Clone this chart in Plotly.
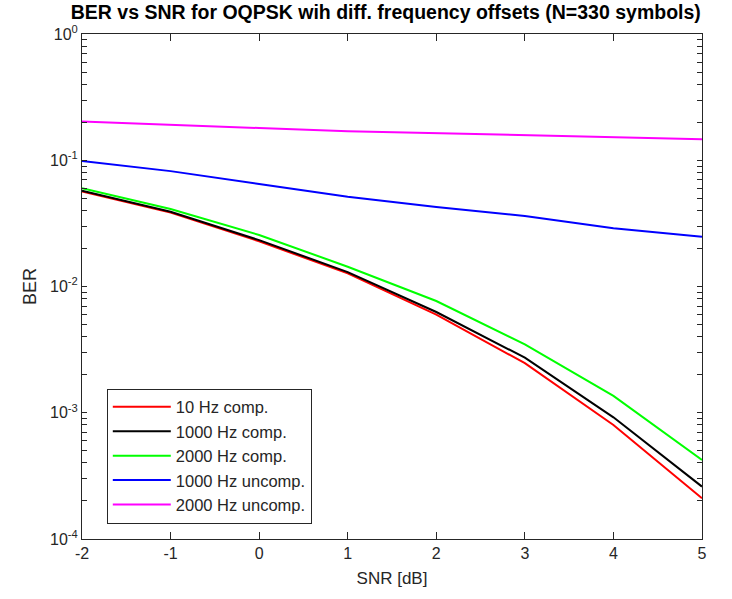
import plotly.graph_objects as go

snr = [-2, -1, 0, 1, 2, 3, 4, 5]
ber_10_comp = [0.0565, 0.0385, 0.0228, 0.0127, 0.00598, 0.00247, 0.00080, 0.00021]
ber_1000_comp = [0.0574, 0.0391, 0.0233, 0.0130, 0.00628, 0.00273, 0.00092, 0.00026]
ber_2000_comp = [0.0600, 0.0411, 0.0256, 0.01435, 0.00767, 0.00348, 0.00136, 0.000422]
ber_1000_uncomp = [0.0987, 0.0820, 0.0649, 0.0514, 0.0426, 0.0362, 0.0289, 0.0248]
ber_2000_uncomp = [0.203, 0.190, 0.180, 0.170, 0.164, 0.158, 0.153, 0.147]

names = ["10 Hz comp.", "1000 Hz comp.", "2000 Hz comp.", "1000 Hz uncomp.", "2000 Hz uncomp."]
colors = ["#ff0000", "#000000", "#00ff00", "#0000ff", "#ff00ff"]
series = [ber_10_comp, ber_1000_comp, ber_2000_comp, ber_1000_uncomp, ber_2000_uncomp]

x_ticks = [-2, -1, 0, 1, 2, 3, 4, 5]
x_ticktext = ["-2", "-1", "0", "1", "2", "3", "4", "5"]
y_exps = [-4, -3, -2, -1, 0]
# decade ticks labelled, plus unlabelled ticks at 2..9 within each decade
y_ticks = []
y_ticktext = []
for e in y_exps:
    y_ticks.append(10.0 ** e)
    y_ticktext.append("10<sup>%d</sup>" % e)
    if e < 0:
        for m in range(2, 10):
            y_ticks.append(m * 10.0 ** e)
            y_ticktext.append("")

fig = go.Figure()
for n, c, s in zip(names, colors, series):
    fig.add_trace(go.Scatter(x=snr, y=s, mode="lines", name=n,
                             line=dict(color=c, width=2)))

axcol = "#262626"
fig.update_layout(
    width=732, height=599,
    margin=dict(l=82, r=30, t=34, b=60),
    paper_bgcolor="white", plot_bgcolor="white",
    font=dict(family="Liberation Sans, Arial, sans-serif", size=16, color=axcol),
    title=dict(text="<b>BER vs SNR for OQPSK wih diff. frequency offsets (N=330 symbols)</b>",
               x=0.527, xanchor="center", y=0.979, yanchor="middle",
               font=dict(size=19.5, color="black")),
    showlegend=True,
    legend=dict(x=0.04, y=0.298, xanchor="left", yanchor="top",
                bgcolor="white", bordercolor=axcol, borderwidth=1,
                font=dict(size=16.5, color=axcol), tracegroupgap=0,
                itemwidth=58),
    xaxis=dict(range=[-2, 5], tickmode="array", tickvals=x_ticks, ticktext=x_ticktext,
               showgrid=False, zeroline=False,
               showline=True, linecolor=axcol, linewidth=1, mirror="ticks",
               ticks="inside", ticklen=7, tickcolor=axcol,
               title=dict(text="SNR [dB]", font=dict(size=17), standoff=10)),
    yaxis=dict(type="log", range=[-4, 0], tickmode="array",
               tickvals=y_ticks, ticktext=y_ticktext,
               showgrid=False, zeroline=False,
               showline=True, linecolor=axcol, linewidth=1, mirror="ticks",
               ticks="inside", ticklen=5, tickcolor=axcol,
               title=dict(text="BER", font=dict(size=18), standoff=8)),
)
fig.write_html("out.html")
